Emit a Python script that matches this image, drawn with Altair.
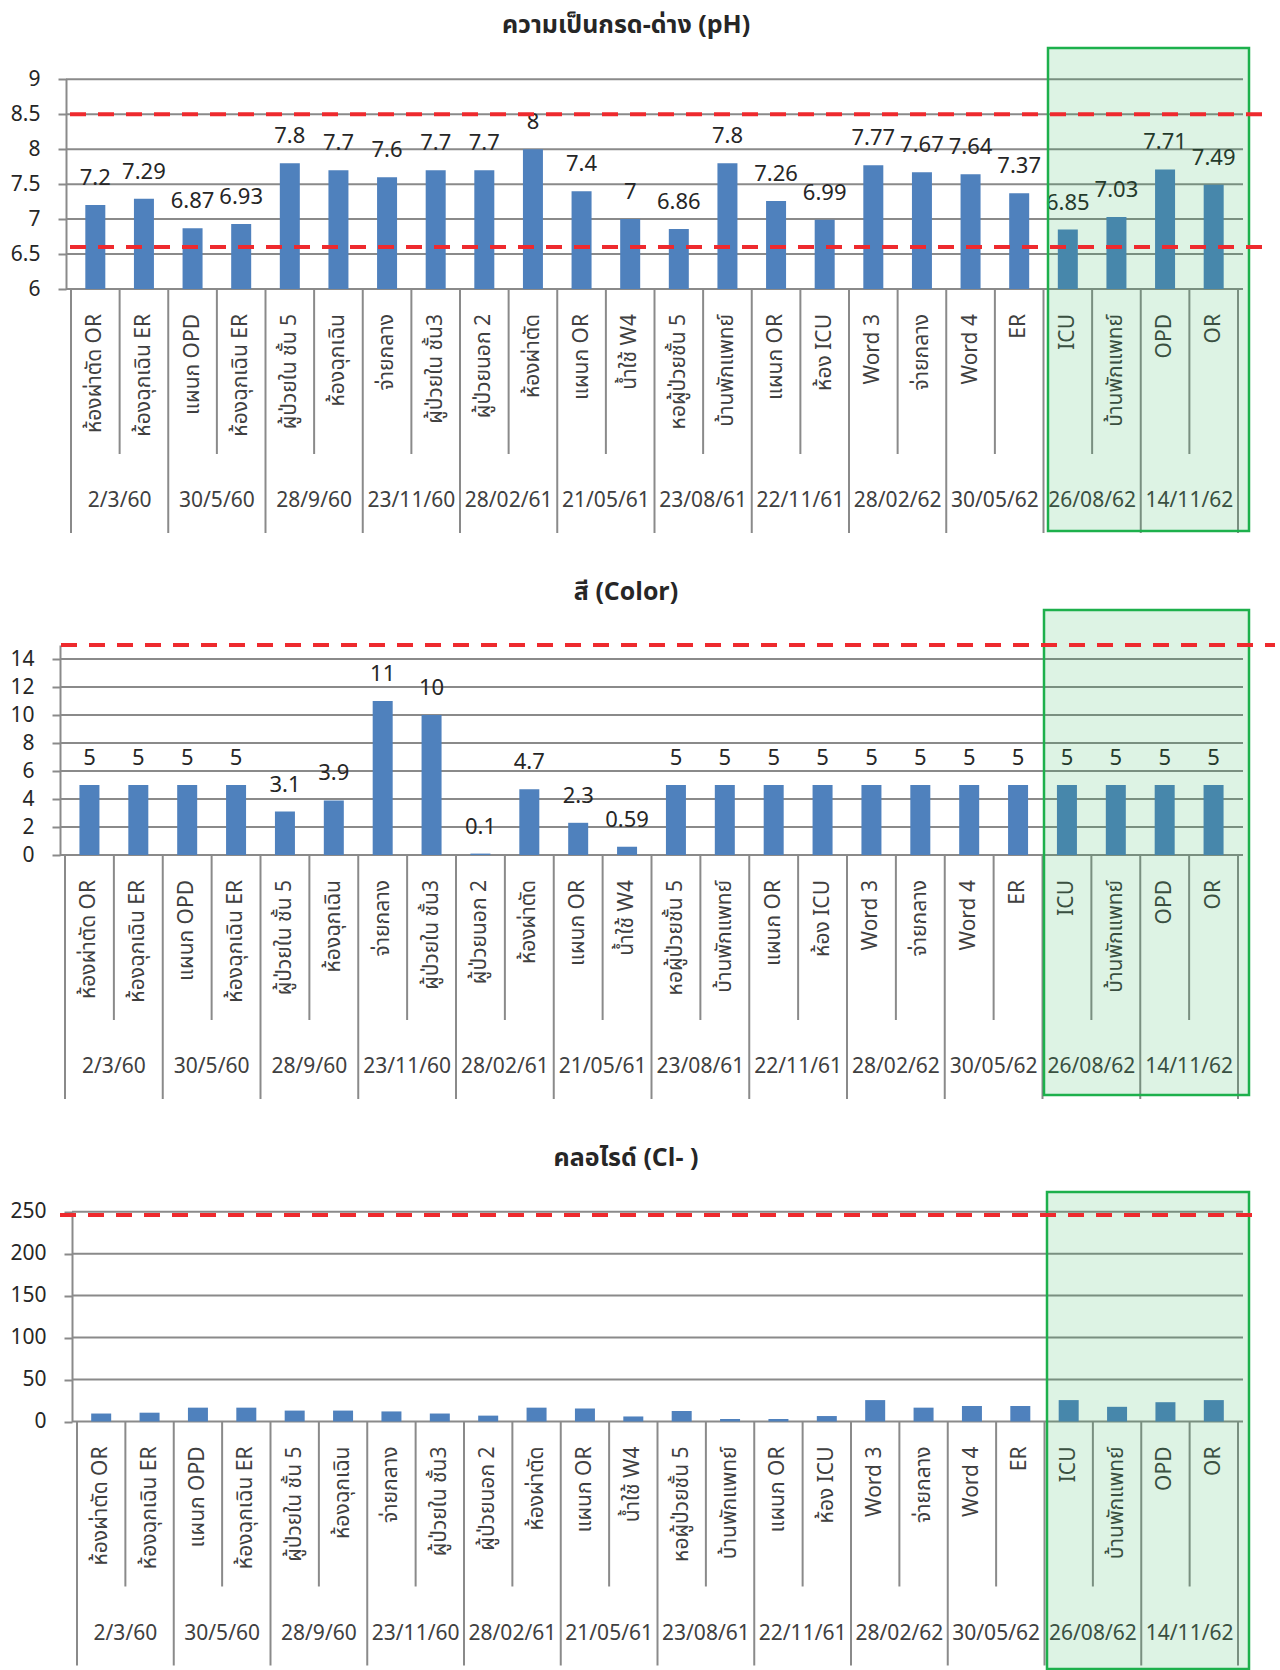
import altair as alt
import pandas as pd

# ---- data -------------------------------------------------------------
dates = ["2/3/60", "30/5/60", "28/9/60", "23/11/60", "28/02/61", "21/05/61",
         "23/08/61", "22/11/61", "28/02/62", "30/05/62", "26/08/62", "14/11/62"]

sites = ["ห้องผ่าตัด OR", "ห้องฉุกเฉิน ER", "แผนก OPD", "ห้องฉุกเฉิน ER",
         "ผู้ป่วยใน ชั้น 5", "ห้องฉุกเฉิน", "จ่ายกลาง", "ผู้ป่วยใน ชั้น3",
         "ผู้ป่วยนอก 2", "ห้องผ่าตัด", "แผนก OR", "น้ำใช้ W4",
         "หอผู้ป่วยชั้น 5", "บ้านพักแพทย์", "แผนก OR", "ห้อง ICU",
         "Word 3", "จ่ายกลาง", "Word 4", "ER",
         "ICU", "บ้านพักแพทย์", "OPD", "OR"]

ph_values = [7.2, 7.29, 6.87, 6.93, 7.8, 7.7, 7.6, 7.7, 7.7, 8, 7.4, 7,
             6.86, 7.8, 7.26, 6.99, 7.77, 7.67, 7.64, 7.37, 6.85, 7.03, 7.71, 7.49]

color_values = [5, 5, 5, 5, 3.1, 3.9, 11, 10, 0.1, 4.7, 2.3, 0.59,
                5, 5, 5, 5, 5, 5, 5, 5, 5, 5, 5, 5]

chloride_values = [9.5, 10.5, 16.5, 16.5, 13, 13, 12, 9.5, 7, 16.5, 15.5, 6,
                   12.5, 3, 3, 6.5, 25.5, 16.5, 18.5, 18.5, 25.5, 17.5, 23, 25.5]

ph_limits = [8.5, 6.6]
color_limits = [15]
chloride_limits = [246]

ph_ticks = [6, 6.5, 7, 7.5, 8, 8.5, 9]
color_ticks = [0, 2, 4, 6, 8, 10, 12, 14]
chloride_ticks = [0, 50, 100, 150, 200, 250]

ph_title = "ความเป็นกรด-ด่าง (pH)"
color_title = "สี (Color)"
chloride_title = "คลอไรด์ (Cl- )"

# ---- styling ----------------------------------------------------------
BAR_BLUE = "#4f81bd"
GRID = "#8a8a8a"
RED = "#ee2a2e"
GREEN = "#1db04c"
TEXT = "#262626"
SUBTEXT = "#404040"
FONT = "Tahoma, 'Noto Sans Thai', 'Leelawadee UI', 'Liberation Sans', sans-serif"

W, FULL_H = 1177, 1670
n = len(sites)

sites_df = pd.DataFrame({"site": sites, "xc": [i + 0.5 for i in range(n)]})
dates_df = pd.DataFrame({"date": dates, "xc": [2 * g + 1 for g in range(len(dates))]})
minor_df = pd.DataFrame({"pos": list(range(1, n, 2))})
major_df = pd.DataFrame({"pos": list(range(0, n + 1, 2))})
one = pd.DataFrame({"k": [0]})


def panel(title, values, domain, ticks, limits, *, top, bottom, x_left,
          axis_offset, red_x, box_x, box_y, title_y, show_labels):
    """One bar panel drawn inside the shared canvas, placed by its scale ranges."""
    df = sites_df.assign(value=values, label=[f"{v:g}" for v in values])
    xscale = alt.Scale(domain=[0, n], nice=False, zero=False, range=[x_left, W])
    yscale = alt.Scale(domain=domain, nice=False, zero=False, clamp=True,
                       range=[bottom, top])
    yaxis = alt.Axis(values=ticks, labelExpr="'' + datum.value", grid=False,
                     orient="left", offset=axis_offset,
                     domainColor=GRID, domainWidth=2,
                     tickColor=GRID, tickWidth=2, tickSize=8,
                     labelFont=FONT, labelFontSize=21, labelColor=TEXT,
                     labelPadding=18, title=None)
    X = alt.X("xc:Q", scale=xscale, axis=None)
    Y = alt.Y("value:Q", scale=yscale, axis=yaxis)

    layers = []
    # horizontal gridlines
    layers.append(
        alt.Chart(pd.DataFrame({"value": ticks}))
        .mark_rule(color=GRID, strokeWidth=2)
        .encode(y=Y, x=alt.value(x_left), x2=alt.value(W))
    )
    layers.append(
        alt.Chart(df).mark_bar(color=BAR_BLUE, size=20)
        .encode(x=X, y=Y, y2=alt.datum(domain[0]))
    )
    if show_labels:
        layers.append(
            alt.Chart(df).mark_text(dy=-27, baseline="middle", fontSize=22,
                                    font=FONT, color=TEXT)
            .encode(x=X, y=Y, text="label:N")
        )
    # category dividers below the plot
    layers.append(
        alt.Chart(minor_df).mark_rule(color=GRID, strokeWidth=2)
        .encode(x=alt.X("pos:Q", scale=xscale, axis=None),
                y=alt.value(bottom), y2=alt.value(bottom + 165))
    )
    layers.append(
        alt.Chart(major_df).mark_rule(color=GRID, strokeWidth=2)
        .encode(x=alt.X("pos:Q", scale=xscale, axis=None),
                y=alt.value(bottom), y2=alt.value(bottom + 244))
    )
    # site names and sampling dates
    layers.append(
        alt.Chart(df).mark_text(angle=270, align="right", baseline="middle",
                                fontSize=21, font=FONT, color=SUBTEXT)
        .encode(x=X, y=alt.value(bottom + 25), text="site:N")
    )
    layers.append(
        alt.Chart(dates_df).mark_text(baseline="middle", fontSize=21,
                                      font=FONT, color=SUBTEXT)
        .encode(x=alt.X("xc:Q", scale=xscale, axis=None),
                y=alt.value(bottom + 212), text="date:N")
    )
    # highlighted latest rounds
    layers.append(
        alt.Chart(one).mark_rect(fill=GREEN, fillOpacity=0.15, stroke=GREEN,
                                 strokeWidth=2.5)
        .encode(x=alt.value(box_x[0]), x2=alt.value(box_x[1]),
                y=alt.value(box_y[0]), y2=alt.value(box_y[1]))
    )
    # standard limits
    layers.append(
        alt.Chart(pd.DataFrame({"value": limits}))
        .mark_rule(color=RED, strokeWidth=4, strokeDash=[16, 12])
        .encode(y=Y, x=alt.value(red_x[0]), x2=alt.value(red_x[1]))
    )
    # panel heading
    layers.append(
        alt.Chart(one).mark_text(baseline="middle", fontSize=25,
                                 fontWeight="bold", font=FONT, color=TEXT)
        .encode(x=alt.value(560), y=alt.value(title_y), text=alt.value(title))
    )
    return alt.layer(*layers)


ph_panel = panel(ph_title, ph_values, [6, 9], ph_ticks, ph_limits,
                 top=79.3, bottom=289, x_left=0, axis_offset=0,
                 red_x=(4, 1197), box_x=(982, 1183), box_y=(48, 531),
                 title_y=25, show_labels=True)
color_panel = panel(color_title, color_values, [0, 15], color_ticks,
                    color_limits, top=645, bottom=855, x_left=-6,
                    axis_offset=6, red_x=(-5, 1209), box_x=(978, 1183),
                    box_y=(610, 1095), title_y=592, show_labels=True)
chloride_panel = panel(chloride_title, chloride_values, [0, 250],
                       chloride_ticks, chloride_limits, top=1211.7,
                       bottom=1421.5, x_left=6, axis_offset=-6,
                       red_x=(-6, 1187), box_x=(981, 1183),
                       box_y=(1192, 1669), title_y=1158, show_labels=False)

# transparent guide that keeps the canvas origin 66px left of the plot edge
edge = (
    alt.Chart(one).mark_rule(strokeOpacity=0, strokeWidth=1)
    .encode(x=alt.value(-66), x2=alt.value(0), y=alt.value(1))
)

chart = (
    alt.layer(ph_panel, color_panel, chloride_panel, edge)
    .resolve_scale(x="independent", y="independent")
    .properties(width=W, height=FULL_H, padding=0)
    .configure_view(stroke=None)
)

chart.save("out.html", embed_options={"renderer": "svg", "actions": False})
